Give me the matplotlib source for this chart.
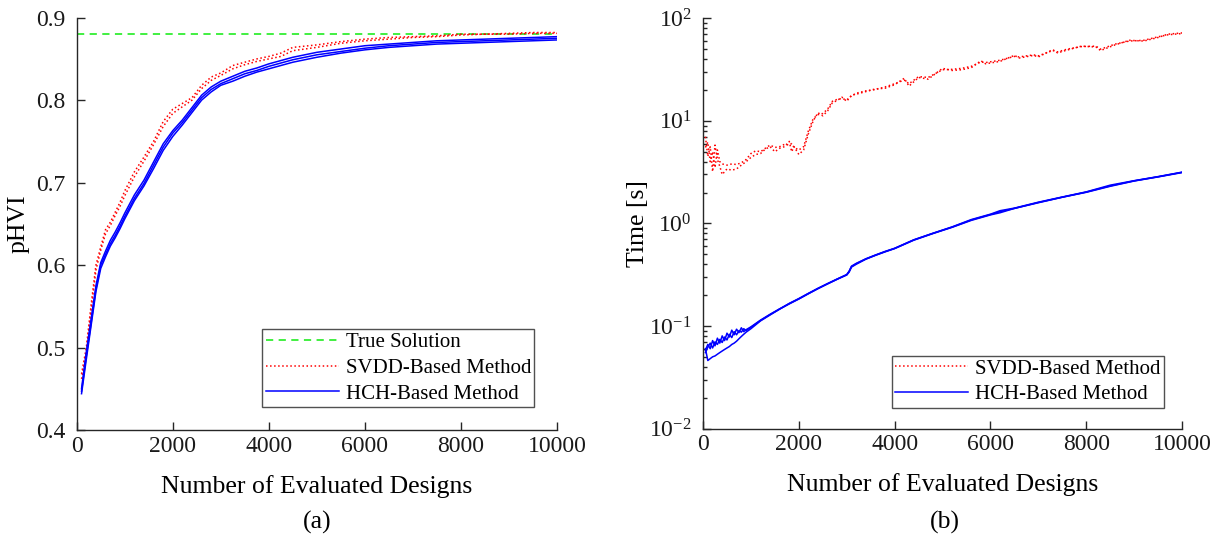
import matplotlib
matplotlib.use("Agg")
import matplotlib.pyplot as plt
from matplotlib.ticker import LogLocator, NullFormatter, FixedLocator

# ---------------- data ----------------
# (a) pHVI versus number of evaluated designs
evals_phvi = [100, 200, 300, 400, 500, 600, 700, 800, 900, 1000, 1200, 1400, 1600,
              1800, 2000, 2200, 2400, 2600, 2800, 3000, 3250, 3500, 3750, 4000, 4250,
              4500, 5000, 5500, 6000, 6500, 7000, 7500, 8000, 8500, 9000, 9500, 10000]

phvi_svdd_run1 = [0.468, 0.500, 0.552, 0.600, 0.622, 0.643, 0.652, 0.664, 0.676, 0.690,
                  0.713, 0.731, 0.750, 0.774, 0.789, 0.796, 0.803, 0.818, 0.828, 0.833,
                  0.842, 0.846, 0.850, 0.853, 0.857, 0.864, 0.867, 0.871, 0.874, 0.876,
                  0.877, 0.878, 0.880, 0.880, 0.881, 0.882, 0.882]
phvi_svdd_run2 = [0.462, 0.495, 0.546, 0.594, 0.618, 0.638, 0.648, 0.660, 0.671, 0.684,
                  0.707, 0.726, 0.746, 0.768, 0.784, 0.792, 0.800, 0.814, 0.824, 0.830,
                  0.838, 0.843, 0.847, 0.850, 0.853, 0.860, 0.864, 0.869, 0.872, 0.874,
                  0.876, 0.877, 0.879, 0.880, 0.880, 0.881, 0.881]

phvi_hch_run1 = [0.450, 0.495, 0.535, 0.575, 0.603, 0.617, 0.630, 0.640, 0.651, 0.663,
                 0.685, 0.703, 0.725, 0.747, 0.763, 0.776, 0.791, 0.806, 0.816, 0.823,
                 0.829, 0.835, 0.839, 0.844, 0.848, 0.852, 0.858, 0.862, 0.866, 0.868,
                 0.870, 0.872, 0.873, 0.874, 0.875, 0.876, 0.877]
phvi_hch_run2 = [0.447, 0.490, 0.530, 0.571, 0.600, 0.613, 0.626, 0.636, 0.647, 0.659,
                 0.681, 0.699, 0.721, 0.743, 0.760, 0.773, 0.788, 0.803, 0.813, 0.820,
                 0.826, 0.832, 0.836, 0.841, 0.845, 0.849, 0.855, 0.859, 0.863, 0.866,
                 0.868, 0.870, 0.871, 0.872, 0.873, 0.874, 0.875]
phvi_hch_run3 = [0.444, 0.486, 0.527, 0.568, 0.596, 0.610, 0.623, 0.633, 0.644, 0.656,
                 0.678, 0.696, 0.717, 0.739, 0.756, 0.770, 0.785, 0.800, 0.810, 0.818,
                 0.823, 0.829, 0.834, 0.838, 0.842, 0.846, 0.852, 0.857, 0.861, 0.864,
                 0.866, 0.868, 0.869, 0.870, 0.871, 0.872, 0.873]

true_phvi = 0.880

# (b) computation time versus number of evaluated designs
evals_time_svdd = [50, 100, 150, 200, 250, 300, 350, 400, 500, 600, 700, 800, 900, 1000,
                   1100, 1200, 1300, 1400, 1500, 1600, 1700, 1800, 1850, 1900, 2000, 2100,
                   2200, 2300, 2400, 2500, 2600, 2700, 2800, 2900, 3000, 3100, 3200, 3400,
                   3600, 3800, 4000, 4200, 4300, 4500, 4700, 5000, 5200, 5400, 5600, 5800,
                   5900, 6200, 6500, 6600, 6900, 7000, 7300, 7400, 7600, 7900, 8200, 8300,
                   8600, 8900, 9200, 9500, 9700, 10000]
time_svdd_run1 = [7.0, 4.5, 5.6, 3.2, 5.8, 4.2, 3.6, 3.0, 3.4, 3.3, 3.4, 3.7, 4.0, 4.4,
                  4.7, 4.8, 5.3, 5.6, 5.0, 5.4, 5.6, 6.3, 5.0, 5.6, 4.7, 5.2,
                  7.5, 10.0, 12.0, 11.2, 12.5, 15.0, 15.8, 17.0, 15.5, 17.8, 18.2, 19.3,
                  20.5, 20.8, 22.5, 26.0, 21.8, 26.5, 25.5, 32.5, 31.0, 31.5, 33.0, 38.5,
                  36.0, 38.0, 43.5, 41.0, 43.5, 42.0, 49.5, 46.0, 49.0, 53.5, 52.5, 48.5,
                  55.0, 61.0, 60.0, 65.0, 70.0, 72.0]
time_svdd_run2 = [5.5, 6.2, 4.0, 5.0, 3.5, 5.2, 4.0, 3.8, 3.7, 3.8, 3.75, 3.9, 4.2, 4.8,
                  5.1, 5.0, 5.4, 5.8, 5.5, 5.6, 5.9, 5.8, 6.0, 5.5, 5.2, 5.6,
                  8.0, 10.5, 11.5, 11.8, 13.0, 15.5, 16.2, 16.5, 16.0, 17.5, 18.6, 19.6,
                  20.2, 21.4, 23.0, 25.0, 23.0, 27.0, 26.5, 31.5, 31.8, 32.5, 34.0, 37.5,
                  37.0, 39.0, 42.5, 42.0, 44.0, 43.0, 48.5, 47.0, 50.0, 53.0, 53.5, 50.0,
                  56.0, 60.0, 61.0, 66.0, 69.0, 71.0]

evals_time_hch = [50, 100, 150, 200, 250, 300, 350, 400, 450, 500, 550, 600, 650, 700,
                  750, 800, 850, 900, 1000, 1200, 1400, 1600, 1800, 2000, 2200, 2400,
                  2600, 2800, 3000, 3050, 3100, 3200, 3400, 3600, 3800, 4000, 4400, 4800,
                  5200, 5600, 6000, 6200, 6500, 7000, 7500, 8000, 8500, 9000, 9500, 10000]
time_hch_run1 = [0.058, 0.066, 0.060, 0.072, 0.064, 0.076, 0.068, 0.080, 0.072, 0.085,
                 0.078, 0.091, 0.082, 0.093, 0.086, 0.096, 0.088, 0.092, 0.098, 0.114,
                 0.130, 0.147, 0.165, 0.184, 0.207, 0.232, 0.258, 0.286, 0.316, 0.340,
                 0.380, 0.405, 0.450, 0.490, 0.530, 0.570, 0.690, 0.800, 0.920, 1.08,
                 1.22, 1.30, 1.40, 1.60, 1.80, 2.02, 2.32, 2.60, 2.85, 3.15]
time_hch_run2 = [0.060, 0.046, 0.048, 0.050, 0.051, 0.053, 0.055, 0.057, 0.059, 0.061,
                 0.063, 0.066, 0.068, 0.071, 0.075, 0.079, 0.083, 0.087, 0.094, 0.112,
                 0.128, 0.146, 0.164, 0.183, 0.206, 0.231, 0.257, 0.285, 0.314, 0.335,
                 0.375, 0.400, 0.448, 0.488, 0.528, 0.568, 0.686, 0.796, 0.916, 1.07,
                 1.21, 1.27, 1.40, 1.59, 1.80, 2.01, 2.30, 2.59, 2.84, 3.13]
time_hch_run3 = [0.055, 0.062, 0.068, 0.061, 0.070, 0.066, 0.074, 0.069, 0.078, 0.073,
                 0.083, 0.077, 0.088, 0.082, 0.090, 0.087, 0.094, 0.090, 0.097, 0.113,
                 0.129, 0.146, 0.166, 0.185, 0.208, 0.233, 0.259, 0.287, 0.317, 0.342,
                 0.383, 0.408, 0.452, 0.492, 0.533, 0.572, 0.692, 0.802, 0.925, 1.09,
                 1.23, 1.33, 1.41, 1.61, 1.81, 2.03, 2.36, 2.61, 2.86, 3.16]

# ---------------- style ----------------
plt.rcParams["font.family"] = ["Liberation Serif", "DejaVu Serif"]
plt.rcParams["mathtext.fontset"] = "custom"
plt.rcParams["mathtext.rm"] = "Liberation Serif"
plt.rcParams["mathtext.it"] = "Liberation Serif:italic"
plt.rcParams["axes.unicode_minus"] = False

AX_COLOR = "#262626"
RED = "#ff0000"
BLUE = "#0000ff"
GREEN = "#33ee33"
TICK_SIZE = 17
LABEL_SIZE = 18.5
LEGEND_SIZE = 15

fig = plt.figure(figsize=(12.18, 5.46), dpi=100)
ax_a = fig.add_axes([0.063, 0.2125, 0.3943, 0.7551])
ax_b = fig.add_axes([0.5772, 0.2152, 0.3933, 0.7513])


def style_axes(ax):
    for side in ("top", "right"):
        ax.spines[side].set_visible(False)
    for side in ("left", "bottom"):
        ax.spines[side].set_color(AX_COLOR)
        ax.spines[side].set_linewidth(1.0)
    ax.tick_params(which="both", direction="in", colors=AX_COLOR, labelcolor="#1a1a1a",
                   labelsize=TICK_SIZE, width=1.0)
    ax.tick_params(which="major", length=6)
    ax.tick_params(which="minor", length=3)
    ax.tick_params(axis="x", pad=4)
    ax.tick_params(axis="y", pad=8)


def add_legend(ax, anchor):
    leg = ax.legend(loc="lower right", bbox_to_anchor=anchor, fontsize=LEGEND_SIZE,
                    frameon=True, fancybox=False, handlelength=3.5, borderpad=0.15,
                    labelspacing=0.3, handletextpad=0.35, borderaxespad=0)
    frame = leg.get_frame()
    frame.set_edgecolor(AX_COLOR)
    frame.set_linewidth(1.0)
    return leg


# ---------------- panel (a) ----------------
ax_a.axhline(true_phvi, color=GREEN, linestyle=(0, (4, 3)), linewidth=1.3,
             label="True Solution")
for i, run in enumerate([phvi_svdd_run1, phvi_svdd_run2]):
    ax_a.plot(evals_phvi, run, color=RED, linestyle=":", linewidth=1.1,
              label="SVDD-Based Method" if i == 0 else None)
for i, run in enumerate([phvi_hch_run1, phvi_hch_run2, phvi_hch_run3]):
    ax_a.plot(evals_phvi, run, color=BLUE, linestyle="-", linewidth=1.1,
              label="HCH-Based Method" if i == 0 else None)

ax_a.set_xlim(0, 10000)
ax_a.set_ylim(0.4, 0.9)
ax_a.set_xticks([0, 2000, 4000, 6000, 8000, 10000])
ax_a.set_yticks([0.4, 0.5, 0.6, 0.7, 0.8, 0.9])
ax_a.set_yticklabels(["0.4", "0.5", "0.6", "0.7", "0.8", "0.9"])
ax_a.set_xlabel("Number of Evaluated Designs", fontsize=LABEL_SIZE, labelpad=13)
ax_a.set_ylabel("pHVI", fontsize=LABEL_SIZE, labelpad=5)
style_axes(ax_a)
add_legend(ax_a, (0.953, 0.056))

# ---------------- panel (b) ----------------
for i, run in enumerate([time_svdd_run1, time_svdd_run2]):
    ax_b.plot(evals_time_svdd, run, color=RED, linestyle=":", linewidth=1.1,
              label="SVDD-Based Method" if i == 0 else None)
for i, run in enumerate([time_hch_run1, time_hch_run2, time_hch_run3]):
    ax_b.plot(evals_time_hch, run, color=BLUE, linestyle="-", linewidth=1.1,
              label="HCH-Based Method" if i == 0 else None)

ax_b.set_yscale("log")
ax_b.set_xlim(0, 10000)
ax_b.set_ylim(1e-2, 1e2)
ax_b.set_xticks([0, 2000, 4000, 6000, 8000, 10000])
ax_b.yaxis.set_major_locator(FixedLocator([1e-2, 1e-1, 1e0, 1e1, 1e2]))
ax_b.set_yticklabels([r"10$^{-2}$", r"10$^{-1}$", r"10$^{0}$", r"10$^{1}$", r"10$^{2}$"])
ax_b.yaxis.set_minor_locator(LogLocator(base=10, subs=range(2, 10), numticks=20))
ax_b.yaxis.set_minor_formatter(NullFormatter())
ax_b.set_xlabel("Number of Evaluated Designs", fontsize=LABEL_SIZE, labelpad=13)
ax_b.set_ylabel("Time [s]", fontsize=LABEL_SIZE, labelpad=0)
style_axes(ax_b)
add_legend(ax_b, (0.962, 0.051))

# panel captions
fig.text(0.2605, 0.044, "(a)", ha="center", va="center", fontsize=LABEL_SIZE)
fig.text(0.776, 0.044, "(b)", ha="center", va="center", fontsize=LABEL_SIZE)

fig.savefig("out.png", dpi=100)
